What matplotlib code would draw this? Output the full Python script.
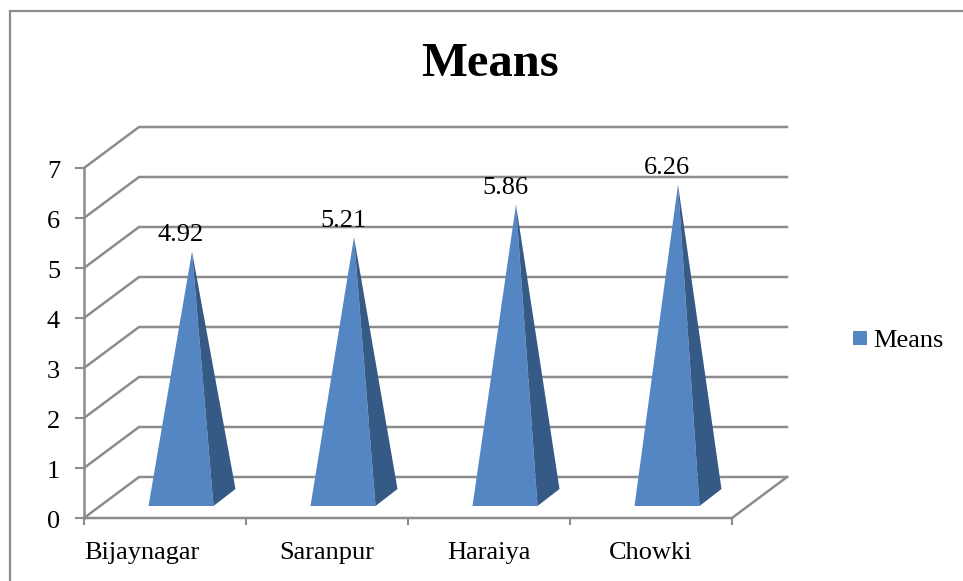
#plotting
import matplotlib
matplotlib.use('Agg')
import matplotlib.pyplot as plt
from matplotlib.patches import Polygon, Rectangle

# data
categories = ['Bijaynagar', 'Saranpur', 'Haraiya', 'Chowki']
means = [4.92, 5.21, 5.86, 6.26]
y_ticks = [0, 1, 2, 3, 4, 5, 6, 7]
series_name = 'Means'

W, H = 963, 581
GRID = '#8c8c8c'
FRONT = '#5486c4'
SIDE = '#365a86'
FS = 19

plt.rcParams['font.family'] = ['Liberation Serif', 'DejaVu Serif']

fig = plt.figure(figsize=(W / 100, H / 100), dpi=100)

# outer chart frame
fig.add_artist(Rectangle((10 / W, -0.02), 1.1, 1 - 11 / H + 0.02, transform=fig.transFigure,
                         fill=False, edgecolor=GRID, linewidth=1.6))

# axes is the front plane of the 3d box
ax = fig.add_axes([84 / W, 1 - 518 / H, 648 / W, 350 / H])
ax.set_xlim(0, len(categories))
ax.set_ylim(0, 7)
ax.axis('off')

# depth of the box in data units
dx = 55 / 162
dy = 41 / 50

# gridlines, side wall and floor
for y in y_ticks:
    ax.plot([0, dx, len(categories) + dx], [y, y + dy, y + dy], color=GRID, lw=1.8,
            clip_on=False, zorder=1, solid_joinstyle='miter')
    ax.plot([-8 / 162, 0], [y, y], color=GRID, lw=1.5, clip_on=False, zorder=1)
    ax.text(-0.148, y - 0.2, str(y), ha='right', va='baseline', fontsize=FS, color='black')
ax.plot([0, 0], [0, 7], color=GRID, lw=1.8, clip_on=False, zorder=1)
ax.plot([0, len(categories), len(categories) + dx], [0, 0, dy], color=GRID, lw=1.8,
        clip_on=False, zorder=1)
for i in range(len(categories) + 1):
    ax.plot([i, i], [0, -6 / 50], color=GRID, lw=1.5, clip_on=False, zorder=1)

# pyramids
half = 32.5 / 162
for i, (name, v) in enumerate(zip(categories, means)):
    xf = i + 0.5 + 16 / 162      # middle of the front base edge
    yf = 12 / 50                 # front base edge above the axis
    xs = 22 / 162                # side face depth
    ys = 17 / 50
    apex = (xf + xs / 2, v + dy / 2)
    ax.add_patch(Polygon([(xf - half, yf), (xf + half, yf), apex], closed=True,
                         facecolor=FRONT, edgecolor='none', zorder=3, clip_on=False))
    ax.add_patch(Polygon([(xf + half, yf), (xf + half + xs, yf + ys), apex], closed=True,
                         facecolor=SIDE, edgecolor='none', zorder=3, clip_on=False))
    ax.text(apex[0] - 11 / 162, v + dy / 2 + 0.2, f'{v:.2f}', ha='center', va='baseline',
            fontsize=FS, color='black', zorder=4)
    if i == 0:
        ax.text(0, -0.82, name, ha='left', va='baseline', fontsize=FS, color='black')
    else:
        ax.text(i + 0.5, -0.82, name, ha='center', va='baseline', fontsize=FS, color='black')

# title and legend
fig.text(490 / W, 1 - 76 / H, series_name, ha='center', va='baseline', fontsize=35,
         fontweight='bold', color='black')
fig.add_artist(Rectangle((853 / W, 1 - 345 / H), 14 / W, 14 / H, transform=fig.transFigure,
                         facecolor=FRONT, edgecolor='none'))
fig.text(873 / W, 1 - 347 / H, series_name, ha='left', va='baseline', fontsize=FS, color='black')

fig.savefig('out.png', dpi=100)
